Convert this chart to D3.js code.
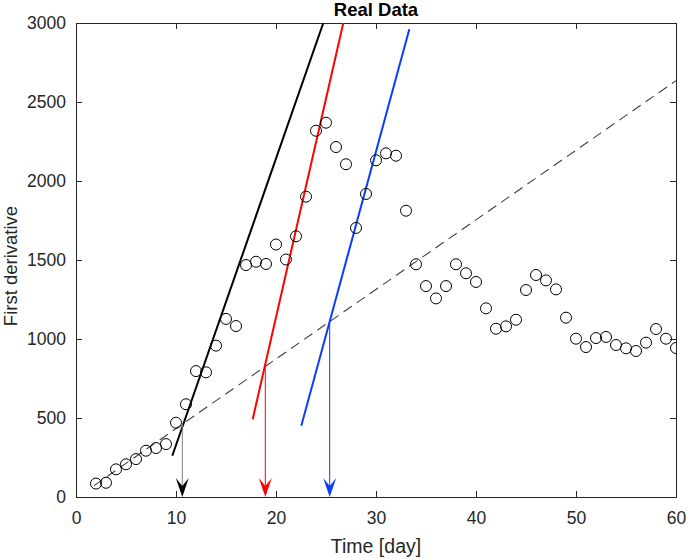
<!DOCTYPE html>
<html>
<head>
<meta charset="utf-8">
<script src="https://cdn.jsdelivr.net/npm/d3@7"></script>
<style>
  html, body { margin: 0; padding: 0; background: #fff; }
  svg { display: block; font-family: "Liberation Sans", Arial, sans-serif; }
</style>
</head>
<body>
<svg id="chart" width="688" height="559"></svg>
<script>
// ---- data ----
const days = [2,3,4,5,6,7,8,9,10,11,12,13,14,15,16,17,18,19,20,21,22,23,24,25,26,27,28,29,30,31,32,33,34,35,36,37,38,39,40,41,42,43,44,45,46,47,48,49,50,51,52,53,54,55,56,57,58,59,60];
const firstDeriv = [85,90,175,207,240,293,310,335,470,587,797,789,958,1127,1082,1468,1489,1475,1598,1503,1650,1901,2318,2369,2215,2106,1703,1918,2131,2175,2160,1812,1473,1335,1257,1335,1473,1416,1361,1194,1065,1080,1122,1310,1405,1371,1314,1135,1002,949,1006,1013,962,941,924,977,1063,1002,943];

const fitNames  = ["black", "red", "blue"];
const fitColors = ["#000000", "#ff0000", "#0a3cff"];
const fitStartX = [9.63, 17.67, 22.53];
const fitStartY = [261, 492, 451];
const fitEndX   = [24.73, 26.73, 33.33];
const fitEndY   = [3000, 3000, 2960];

const baseLine  = { x0: 1.8, y0: 72, x1: 60, y1: 2635 };   // dashed trend line

const arrowX      = [10.63, 18.93, 25.37];
const arrowShaft  = ["#808080", "#ff0000", "#0a3cff"];
const arrowHead   = ["#000000", "#ff0000", "#0a3cff"];

const xTicks = [0,10,20,30,40,50,60];
const yTicks = [0,500,1000,1500,2000,2500,3000];

// ---- layout ----
const svg = d3.select("#chart");
const m = { left: 76, top: 23, right: 12, bottom: 62 };
const W = 688 - m.left - m.right;   // 600
const H = 559 - m.top - m.bottom;   // 474

const x = d3.scaleLinear().domain([0, 60]).range([0, W]);
const y = d3.scaleLinear().domain([0, 3000]).range([H, 0]);

const g = svg.append("g").attr("transform", `translate(${m.left},${m.top})`);

svg.append("defs").append("clipPath").attr("id", "clip")
  .append("rect").attr("x", 0).attr("y", 0).attr("width", W).attr("height", H);

const axisColor = "#262626";
const tickFont = "17.5px";

// axes
const xAxis = g.append("g").attr("transform", `translate(0,${H})`)
  .call(d3.axisBottom(x).tickValues(xTicks).tickSize(-6).tickPadding(15).tickFormat(d3.format("d")));
const xAxisTop = g.append("g")
  .call(d3.axisTop(x).tickValues(xTicks).tickSize(-6).tickFormat(""));
const yAxis = g.append("g")
  .call(d3.axisLeft(y).tickValues(yTicks).tickSize(-6).tickPadding(10).tickFormat(d3.format("d")));
const yAxisRight = g.append("g").attr("transform", `translate(${W},0)`)
  .call(d3.axisRight(y).tickValues(yTicks).tickSize(-6).tickFormat(""));

[xAxis, xAxisTop, yAxis, yAxisRight].forEach(a => {
  a.select(".domain").attr("stroke", axisColor).attr("stroke-width", 1);
  a.selectAll(".tick line").attr("stroke", axisColor).attr("stroke-width", 1);
  a.selectAll(".tick text").attr("fill", axisColor).style("font-size", tickFont)
    .style("font-family", "'Liberation Sans', Arial, sans-serif");
});

const plot = g.append("g").attr("clip-path", "url(#clip)");

// dashed base line
plot.append("line")
  .attr("x1", x(baseLine.x0)).attr("y1", y(baseLine.y0))
  .attr("x2", x(baseLine.x1)).attr("y2", y(baseLine.y1))
  .attr("stroke", "#404040").attr("stroke-width", 1.1)
  .attr("stroke-dasharray", "10,6");

// fit lines
fitNames.forEach((n, i) => {
  plot.append("line")
    .attr("x1", x(fitStartX[i])).attr("y1", y(fitStartY[i]))
    .attr("x2", x(fitEndX[i])).attr("y2", y(fitEndY[i]))
    .attr("stroke", fitColors[i]).attr("stroke-width", 2);
});

// arrows from dashed line down to the axis
const baseAt = xv => baseLine.y0 + (baseLine.y1 - baseLine.y0) * (xv - baseLine.x0) / (baseLine.x1 - baseLine.x0);
arrowX.forEach((xv, i) => {
  const px = x(xv);
  plot.append("line")
    .attr("x1", px).attr("y1", y(baseAt(xv)))
    .attr("x2", px).attr("y2", y(0) - 8)
    .attr("stroke", arrowShaft[i]).attr("stroke-width", 1);
  const tip = y(0);
  plot.append("path")
    .attr("d", `M${px},${tip} L${px - 6.5},${tip - 19} L${px},${tip - 11} L${px + 6.5},${tip - 19} Z`)
    .attr("fill", arrowHead[i]).attr("stroke", "none");
});

// markers
plot.selectAll("circle.pt").data(days).enter().append("circle")
  .attr("class", "pt")
  .attr("cx", (d) => x(d))
  .attr("cy", (d, i) => y(firstDeriv[i]))
  .attr("r", 5.5)
  .attr("fill", "none").attr("stroke", "#000").attr("stroke-width", 1);

// title and labels
svg.append("text")
  .attr("x", m.left + W / 2).attr("y", 16)
  .attr("text-anchor", "middle")
  .style("font-size", "18.5px").style("font-weight", "bold").attr("fill", "#000")
  .text("Real Data");

svg.append("text")
  .attr("x", m.left + W / 2).attr("y", 553)
  .attr("text-anchor", "middle")
  .style("font-size", "19.5px").attr("fill", axisColor)
  .text("Time [day]");

svg.append("text")
  .attr("transform", `translate(17,266) rotate(-90)`)
  .attr("text-anchor", "middle")
  .style("font-size", "18.5px").attr("fill", axisColor)
  .text("First derivative");
</script>
</body>
</html>
